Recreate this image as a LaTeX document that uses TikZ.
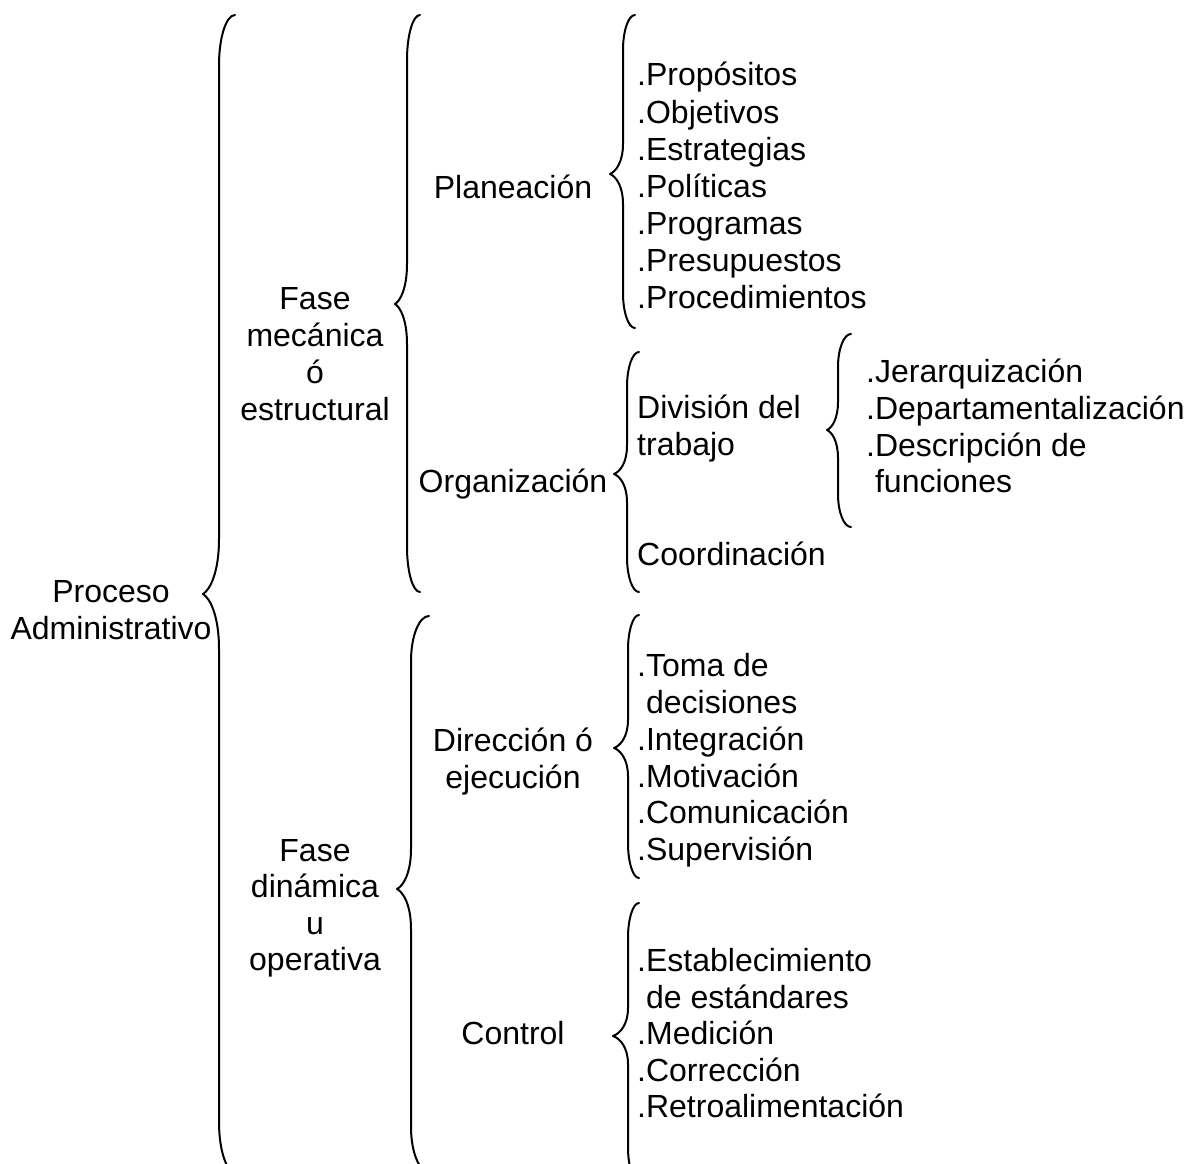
\documentclass[tikz,border=0pt]{standalone}
\usepackage{fontspec}
\setmainfont{Liberation Sans}
\tikzset{
  lbl/.style={font=\fontsize{32}{37}\selectfont, inner sep=0pt, anchor=base},
  item/.style={lbl, anchor=base west},
  brc/.style={line width=2pt, line cap=round, line join=round}
}
% #1 x of straight part, #2 x of tip, #3 x of ends, #4 top y, #5 tip y, #6 bottom y, #7 end curl length, #8 tip curl length
\newcommand\curlybr[8]{%
  \draw[brc] ({#3},{#4}) .. controls ({#1+0.45*(#3-#1)},{#4}) and ({#1},{#4+0.45*#7}) .. ({#1},{#4+#7})
    -- ({#1},{#5-#8}) .. controls ({#1},{#5-0.4*#8}) and ({#2+0.45*(#1-#2)},{#5-0.08*#8}) .. ({#2},{#5})
    .. controls ({#2+0.45*(#1-#2)},{#5+0.08*#8}) and ({#1},{#5+0.4*#8}) .. ({#1},{#5+#8})
    -- ({#1},{#6-#7}) .. controls ({#1},{#6-0.45*#7}) and ({#1+0.45*(#3-#1)},{#6}) .. ({#3},{#6});
}
\begin{document}
\begin{tikzpicture}[x=1pt, y=-1pt]
\useasboundingbox (0,0) rectangle (1187,1164);
\clip (0,0) rectangle (1187,1164);
\fill[white] (0,0) rectangle (1187,1164);

% braces
\curlybr{219}{203}{235}{15}{594}{1172}{50}{55}
\curlybr{407}{395}{420}{15}{304}{592}{45}{40}
\curlybr{623}{610}{635}{15}{174}{328}{35}{30}
\curlybr{627}{614}{639}{352}{474}{592}{35}{28}
\curlybr{838}{827}{851}{334}{430}{527}{33}{28}
\curlybr{411}{397}{429}{616}{889}{1172}{45}{40}
\curlybr{628}{614}{639}{615}{748}{878}{35}{28}
\curlybr{628}{613}{639}{903}{1036}{1182}{35}{28}

% root
\node[lbl] (proc1) at (111,602) {Proceso};
\node[lbl] (proc2) at (111,639) {Administrativo};

% fase mecanica
\node[lbl] (fm1) at (315,309) {Fase};
\node[lbl] (fm2) at (315,346) {mecánica};
\node[lbl] (fm3) at (315,383) {ó};
\node[lbl] (fm4) at (315,420) {estructural};

% fase dinamica
\node[lbl] (fd1) at (315,861) {Fase};
\node[lbl] (fd2) at (315,897) {dinámica};
\node[lbl] (fd3) at (315,934) {u};
\node[lbl] (fd4) at (315,970) {operativa};

% level 3
\node[lbl] (plan) at (513,198) {Planeación};
\node[lbl] (org) at (513,492) {Organización};
\node[lbl] (dir1) at (513,751) {Dirección ó};
\node[lbl] (dir2) at (513,788) {ejecución};
\node[lbl] (ctrl) at (513,1044) {Control};

% planeacion list
\node[item] (pl1) at (637,86) {.Propósitos};
\node[item] (pl2) at (637,123) {.Objetivos};
\node[item] (pl3) at (637,160) {.Estrategias};
\node[item] (pl4) at (637,197) {.Políticas};
\node[item] (pl5) at (637,234) {.Programas};
\node[item] (pl6) at (637,271) {.Presupuestos};
\node[item] (pl7) at (637,308) {.Procedimientos};

% organizacion
\node[item] (div1) at (637,418) {División del};
\node[item] (div2) at (637,455) {trabajo};
\node[item] (coord) at (637,565) {Coordinación};

\node[item] (dv1) at (866,382) {.Jerarquización};
\node[item] (dv2) at (866,419) {.Departamentalización};
\node[item] (dv3) at (866,456) {.Descripción de};
\node[item] (dv4) at (866,492) {\phantom{.}funciones};

% direccion list
\node[item] (di1) at (637,676) {.Toma de};
\node[item] (di2) at (637,713) {\phantom{.}decisiones};
\node[item] (di3) at (637,750) {.Integración};
\node[item] (di4) at (637,787) {.Motivación};
\node[item] (di5) at (637,823) {.Comunicación};
\node[item] (di6) at (637,860) {.Supervisión};

% control list
\node[item] (ct1) at (637,971) {.Establecimiento};
\node[item] (ct2) at (637,1008) {\phantom{.}de estándares};
\node[item] (ct3) at (637,1044) {.Medición};
\node[item] (ct4) at (637,1081) {.Corrección};
\node[item] (ct5) at (637,1117) {.Retroalimentación};
\end{tikzpicture}
\end{document}
